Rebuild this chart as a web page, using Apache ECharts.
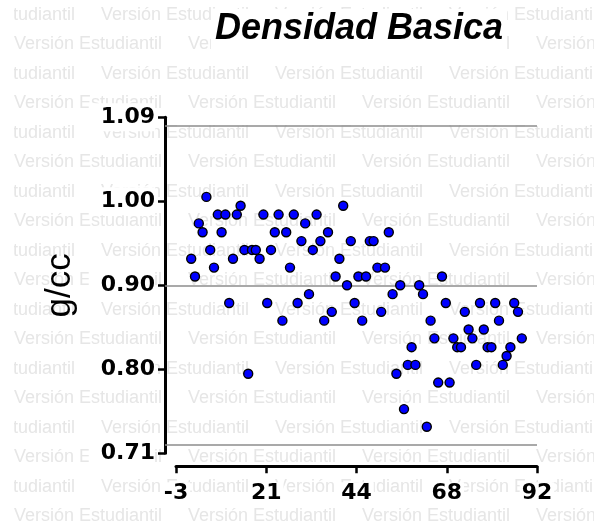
<!DOCTYPE html>
<html><head><meta charset="utf-8">
<script src="https://cdn.jsdelivr.net/npm/echarts@6/dist/echarts.min.js"></script>
<style>html,body{margin:0;padding:0;background:#fff}#c{width:594px;height:527px}</style>
</head><body><div id="c"></div>
<script>
// ---- data ----
const sampleX = [1,2,3,4,5,6,7,8,9,10,11,12,13,14,15,16,17,18,19,20,21,22,23,24,25,26,27,28,29,30,
  31,32,33,34,35,36,37,38,39,40,41,42,43,44,45,46,47,48,49,50,51,52,53,54,55,56,57,58,59,60,
  61,62,63,64,65,66,67,68,69,70,71,72,73,74,75,76,77,78,79,80,81,82,83,84,85,86,87,88];
const density = [
  0.93,0.91,0.97,0.96,1.00,0.94,0.92,0.98,0.96,0.98,
  0.88,0.93,0.98,0.99,0.94,0.80,0.94,0.94,0.93,0.98,
  0.88,0.94,0.96,0.98,0.86,0.96,0.92,0.98,0.88,0.95,
  0.97,0.89,0.94,0.98,0.95,0.86,0.96,0.87,0.91,0.93,
  0.99,0.90,0.95,0.88,0.91,0.86,0.91,0.95,0.95,0.92,
  0.87,0.92,0.96,0.89,0.80,0.90,0.76,0.81,0.83,0.81,
  0.90,0.89,0.74,0.86,0.84,0.79,0.91,0.88,0.79,0.84,
  0.83,0.83,0.87,0.85,0.84,0.81,0.88,0.85,0.83,0.83,
  0.88,0.86,0.81,0.82,0.83,0.88,0.87,0.84];
const xTickValues = [-3, 20.75, 44.5, 68.25, 92];
const xTickLabels = ['-3', '21', '44', '68', '92'];
const yTickValues = [0.71, 0.805, 0.90, 0.995, 1.09];
const yTickLabels = ['0.71', '0.80', '0.90', '1.00', '1.09'];
const refLines = [0.718, 0.90, 1.08];
const titleText = 'Densidad Basica';
const yName = 'g/cc';
const watermarkText = 'Versión Estudiantil';

// ---- chart ----
const chart = echarts.init(document.getElementById('c'), null, {renderer: 'canvas'});
function pick(values, labels) {
  return function (v) {
    const i = values.findIndex(t => Math.abs(t - v) < 1e-6);
    return i >= 0 ? labels[i] : '';
  };
}
const wm = [];
for (let r = 0; r < 18; r++) {
  const y = 15 + 29.5 * r;
  let x = (r % 2 === 0) ? 14 + 87 - 174 : 14;
  for (; x < 594; x += 174) {
    wm.push({type: 'text', z: -10, silent: true,
      style: {text: watermarkText, x: x, y: y, fill: '#e6e6e6',
        font: '18px "Liberation Sans"', textVerticalAlign: 'middle'}});
  }
}
// white page margin on the left where the watermark is not printed
wm.push({type: 'rect', z: -9, silent: true, shape: {x: 0, y: 0, width: 14, height: 527}, style: {fill: '#fff'}});

const G = {top: 117.3, bottom: 73.7, right: 57};
const axisBlack = {show: true, onZero: false, lineStyle: {color: '#000', width: 3}};
const option = {
  backgroundColor: '#fff',
  animation: false,
  title: {
    text: titleText, left: 211, top: 9, padding: [2, 4],
    backgroundColor: '#fff',
    textStyle: {fontFamily: 'Liberation Sans', fontStyle: 'italic', fontWeight: 'bold', fontSize: 36, color: '#000'}
  },
  graphic: {elements: wm},
  grid: [
    {left: 165, right: G.right, top: G.top, bottom: G.bottom},
    {left: 176, right: G.right, top: G.top, bottom: G.bottom}
  ],
  xAxis: [
    {type: 'value', gridIndex: 0, show: false, min: 0, max: 1},
    {type: 'value', gridIndex: 1, min: -3, max: 92, offset: 13,
      axisLine: axisBlack,
      axisTick: {show: true, length: 7, lineStyle: {color: '#000', width: 2.5}, customValues: xTickValues},
      axisLabel: {customValues: xTickValues, formatter: pick(xTickValues, xTickLabels), margin: 16,
        fontFamily: 'DejaVu Sans', fontWeight: 'bold', fontSize: 22, color: '#000',
        backgroundColor: '#fff', padding: [0, 2, 0, 2]},
      splitLine: {show: false}}
  ],
  yAxis: [
    {type: 'value', gridIndex: 0, show: false, min: 0.71, max: 1.09},
    {type: 'value', gridIndex: 1, min: 0.71, max: 1.09, offset: 11,
      axisLine: axisBlack,
      axisTick: {show: true, length: 7, lineStyle: {color: '#000', width: 2.5}, customValues: yTickValues},
      axisLabel: {customValues: yTickValues, formatter: pick(yTickValues, yTickLabels), margin: 10,
        fontFamily: 'DejaVu Sans', fontWeight: 'bold', fontSize: 22, color: '#000',
        backgroundColor: '#fff', padding: [3, 0, 3, 12]},
      splitLine: {show: false},
      name: yName, nameLocation: 'middle', nameGap: 86,
      nameTextStyle: {fontFamily: 'Liberation Sans', fontSize: 35, color: '#000'}}
  ],
  series: [
    {type: 'scatter', xAxisIndex: 0, yAxisIndex: 0, data: [], z: 1,
      markLine: {silent: true, symbol: 'none', label: {show: false},
        lineStyle: {color: '#8c8c8c', width: 1.5, type: 'solid'},
        data: refLines.map(v => ({yAxis: v}))}},
    {type: 'scatter', xAxisIndex: 1, yAxisIndex: 1, z: 5,
      data: sampleX.map((x, i) => [x, density[i]]),
      symbol: 'circle', symbolSize: 9,
      itemStyle: {color: '#0000ff', borderColor: '#000', borderWidth: 1.4, opacity: 1}}
  ]
};
chart.setOption(option);
</script>
</body></html>
